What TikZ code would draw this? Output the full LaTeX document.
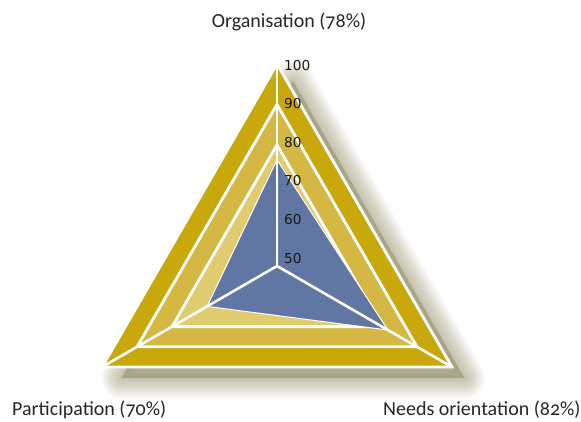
\documentclass[tikz,border=0pt]{standalone}
\usepackage{fontspec}
\usetikzlibrary{calc}
\setmainfont{Carlito}[Numbers=OldStyle]
\newfontfamily\numfont{DejaVu Sans}
\definecolor{goldA}{HTML}{C8A80A}
\definecolor{goldB}{HTML}{D5B844}
\definecolor{goldC}{HTML}{E0CB6E}
\definecolor{bluep}{HTML}{6276A4}
\definecolor{shadowc}{HTML}{857D52}
\tikzset{
  ring/.style={draw=white, line width=2.8pt, line join=miter},
  spoke/.style={draw=white, line width=2.6pt},
  axislabel/.style={font=\numfont\fontsize{13.7}{14}\selectfont, anchor=base west, inner sep=0pt, text=black!90},
  catlabel/.style={font=\fontsize{20}{22}\selectfont, inner sep=0pt, text=black!85},
}
\begin{document}
\begin{tikzpicture}[x=1pt,y=-1pt]
\useasboundingbox (0,0) rectangle (581,421);
\coordinate (C) at (277,266);
% shadow
\foreach \w in {40,36,...,4}{
  \filldraw[shadowc, opacity=0.06, line width=\w pt, line join=round, shift={(293,279)}]
    (-90:198) -- (150:198) -- (30:198) -- cycle;
}
% level triangles
\foreach \v/\c in {100/goldA, 90/goldB, 80/goldC}{
  \pgfmathsetmacro\r{(\v-50)*4.04}
  \filldraw[ring, fill=\c, shift={(C)}] (-90:\r) -- (150:\r) -- (30:\r) -- cycle;
}
% data polygon
\filldraw[draw=white, line width=1pt, fill=bluep, shift={(C)}]
  (-90:{(76.3-50)*4.04}) -- (150:{(70-50)*4.04}) -- (30:{(81.7-50)*4.04}) -- cycle;
% spokes
\coordinate (T) at ($(C)+(-90:202)$);
\coordinate (L) at ($(C)+(150:202)$);
\coordinate (R) at ($(C)+(30:202)$);
\draw[spoke] (C) -- (T);
\draw[spoke] (C) -- (L);
\draw[spoke] (C) -- (R);
% axis labels
\foreach \n [count=\k from 0] in {100,90,80,70,60,50}{
  \node[axislabel] (ax\n) at (284,{70+38.6*\k}) {\n};
}
% category labels
\node[catlabel, anchor=base] (org) at (289,27) {Organisation (78\%)};
\node[catlabel, anchor=base west] (par) at (12,415) {Participation (70\%)};
\node[catlabel, anchor=base west] (need) at (383,415) {Needs orientation (82\%)};
\end{tikzpicture}
\end{document}
